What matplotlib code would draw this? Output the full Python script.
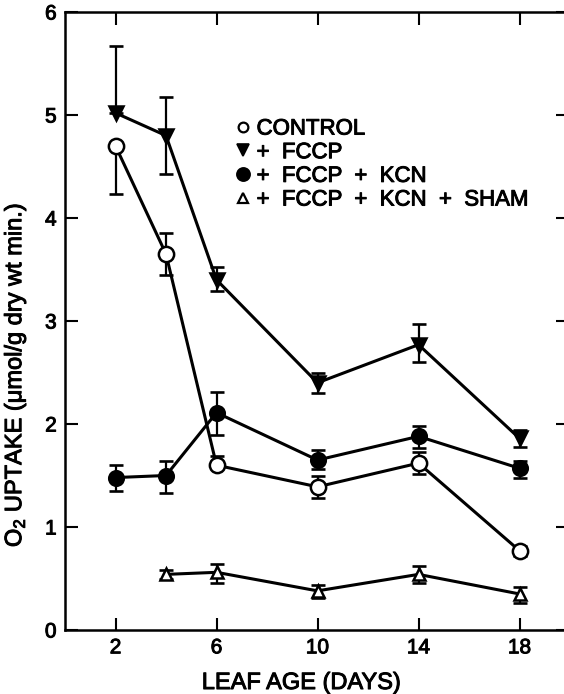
import matplotlib
matplotlib.use("Agg")
import matplotlib.pyplot as plt
from matplotlib.lines import Line2D
import matplotlib.patheffects as pe

plt.rcParams['font.family'] = ['Liberation Sans', 'DejaVu Sans']
plt.rcParams['mathtext.default'] = 'regular'

# Data
days_all = [2, 4, 6, 10, 14, 18]
days_sham = [4, 6, 10, 14, 18]

control = [4.70, 3.65, 1.60, 1.39, 1.62, 0.77]
control_lo = [0.47, 0.20, 0.00, 0.11, 0.11, 0.05]
control_hi = [0.00, 0.20, 0.09, 0.11, 0.11, 0.05]

fccp = [5.02, 4.80, 3.40, 2.40, 2.77, 1.86]
fccp_lo = [0.00, 0.37, 0.11, 0.10, 0.17, 0.08]
fccp_hi = [0.65, 0.37, 0.12, 0.10, 0.20, 0.08]

fccp_kcn = [1.48, 1.50, 2.11, 1.65, 1.88, 1.57]
fccp_kcn_lo = [0.13, 0.17, 0.22, 0.09, 0.11, 0.09]
fccp_kcn_hi = [0.12, 0.14, 0.20, 0.10, 0.10, 0.07]

sham = [0.54, 0.56, 0.38, 0.54, 0.35]
sham_lo = [0.04, 0.10, 0.07, 0.08, 0.09]
sham_hi = [0.04, 0.08, 0.06, 0.08, 0.07]

labels = ["CONTROL", "+  FCCP", "+  FCCP  +  KCN", "+  FCCP  +  KCN  +  SHAM"]
xticks = [2, 6, 10, 14, 18]
yticks = [0, 1, 2, 3, 4, 5, 6]

thick = [pe.withStroke(linewidth=0.7, foreground='black')]

fig = plt.figure(figsize=(5.64, 6.94), dpi=100)
ax = fig.add_axes([65/564, 64/694, 503/564, 618/694])

series = [
    (days_all, control, control_lo, control_hi, 'o', 'white', 11),
    (days_all, fccp, fccp_lo, fccp_hi, 'v', 'black', 10),
    (days_all, fccp_kcn, fccp_kcn_lo, fccp_kcn_hi, 'o', 'black', 10.5),
    (days_sham, sham, sham_lo, sham_hi, '^', 'white', 9),
]

for x, y, lo, hi, m, fc, ms in series:
    ax.errorbar(x, y, yerr=[lo, hi], fmt='none', ecolor='black',
                elinewidth=1.6, capsize=4.7, capthick=1.9, zorder=2)
for x, y, lo, hi, m, fc, ms in series:
    ax.plot(x, y, color='black', lw=2.2, marker=m, markersize=ms,
            markerfacecolor=fc, markeredgecolor='black', markeredgewidth=1.8,
            zorder=3)

ax.set_xlim(0, 19.92)
ax.set_ylim(0, 6)
ax.set_xticks(xticks)
ax.set_yticks(yticks)
ax.tick_params(direction='in', length=9, width=1.5, top=True, right=True,
               labelsize=15, pad=6)
for lab in ax.get_xticklabels() + ax.get_yticklabels():
    lab.set_path_effects(thick)
for s in ax.spines.values():
    s.set_linewidth(1.8)

ax.set_xlabel("LEAF AGE (DAYS)", fontsize=17, path_effects=thick)
ax.xaxis.set_label_coords(0.47, -0.068)
ax.set_ylabel("$O_2$ UPTAKE (\u03bcmol/g dry wt min.)", fontsize=17,
              path_effects=thick)
ax.yaxis.set_label_coords(-0.073, 0.413)

handles = [
    Line2D([], [], ls='none', marker='o', mfc='white', mec='black', mew=1.6, ms=7),
    Line2D([], [], ls='none', marker='v', mfc='black', mec='black', mew=1.2, ms=8),
    Line2D([], [], ls='none', marker='o', mfc='black', mec='black', mew=1.2, ms=9.5),
    Line2D([], [], ls='none', marker='^', mfc='white', mec='black', mew=1.6, ms=7),
]
leg = ax.legend(handles, labels, loc='upper left', bbox_to_anchor=(0.319, 0.842),
                frameon=False, handlelength=0.8, handletextpad=0.2,
                labelspacing=0.12, borderaxespad=0, prop={'size': 16})
for t in leg.get_texts():
    t.set_path_effects(thick)

fig.savefig("out.png", dpi=100)
